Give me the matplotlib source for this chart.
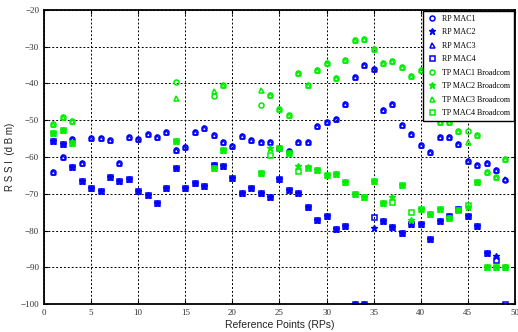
import numpy as np
import matplotlib.pyplot as plt

nan = np.nan

# номера опорных точек (RP)
points = list(range(1, 50))

# RSSI, измеренный на опорных точках (синие)
rp_mac1 = [-64.0, -60.1, -55.2, -61.5, -54.9, -54.9, -55.4, -61.7, -54.5, -55.2,
           -53.7, -54.6, -53.2, -58.1, -57.3, -53.2, -52.2, -54.0, -55.9, -56.9,
           -54.4, -55.4, -56.0, -56.0, -57.6, -58.4, -55.8, -55.8, -51.6, -50.5,
           -49.6, -45.7, -38.3, -35.0, -36.1, -47.3, -45.7, -51.2, -53.8, -56.7,
           -58.7, -54.6, -54.5, -56.5, -61.1, -62.3, -61.5, -63.4, -66.3]
rp_mac2 = [-55.6, -56.4, -62.8, -66.4, -68.5, -69.2, -65.4, -66.4, -66.1, -69.2,
           -70.3, -72.4, -68.3, -63.1, -68.5, -67.0, -67.8, -62.2, -62.5, -65.8,
           -69.7, -68.5, -69.9, -71.0, -65.9, -69.1, -69.7, -73.7, -77.1, -76.1,
           -79.5, -78.8, -100.0, -100.0, -79.4, -77.4, -79.1, -80.6, -78.1, -78.1,
           -82.3, -77.3, -76.1, -74.2, -76.1, -78.8, -86.2, -87.0, -90.0]
rp_mac3 = [-64.0, -60.1, -55.2, -61.5, -54.9, -54.9, -55.4, -61.7, -54.5, -55.2,
           -53.7, -54.6, -53.2, -58.1, -57.3, -53.2, -52.2, -54.0, -55.9, -56.9,
           -54.4, -55.4, -56.0, -56.0, -57.6, -58.4, -55.8, -55.8, -51.6, -50.5,
           -49.6, -45.7, -38.3, -35.0, -36.1, -47.3, -45.7, -51.2, -53.8, -56.7,
           -58.7, -54.6, -54.5, -56.5, -61.1, -62.3, -61.5, -63.4, -66.1]
rp_mac4 = [-55.6, -56.4, -62.8, -66.4, -68.5, -69.2, -65.4, -66.4, -66.1, -69.2,
           -70.3, -72.4, -68.3, -63.1, -68.5, -67.0, -67.8, -62.2, -62.5, -65.8,
           -69.7, -68.5, -69.9, -71.0, -65.9, -69.1, -69.7, -73.7, -77.1, -76.1,
           -79.5, -78.8, -100.0, -100.0, -76.2, -77.4, -79.1, -80.6, -78.1, -78.1,
           -82.3, -77.3, -76.1, -74.2, -76.1, -78.8, -86.2, -88.0, -100.0]

# RSSI от широковещательных точек (зелёные)
tp_mac1 = [-50.9, -49.2, -50.1, nan, nan, nan, nan, nan, nan, nan,
           nan, nan, nan, -39.6, nan, nan, nan, -43.4, -40.5, nan,
           nan, nan, -45.9, -43.1, -46.8, -48.6, -37.2, -40.4, -36.3, -34.3,
           -38.6, -33.6, -28.2, -28.0, -30.6, -34.5, -34.0, -35.4, -37.9, -36.3,
           -39.0, -50.4, -50.6, -53.0, -52.8, -54.0, -64.0, -65.4, -60.6]
tp_mac2 = [-53.4, -52.6, -56.3, nan, nan, nan, nan, nan, nan, nan,
           nan, nan, nan, -55.6, nan, nan, nan, -63.1, -58.1, nan,
           nan, nan, -64.4, -57.6, -57.6, -58.8, -62.5, -62.6, -63.4, -64.9,
           -64.6, -66.9, -70.1, -71.0, -66.4, -72.6, -70.8, -67.6, -77.0, -74.0,
           -75.6, -74.0, -76.7, -74.4, -73.5, -66.9, -89.8, -89.8, -90.0]
tp_mac3 = [-50.9, -49.2, -50.1, nan, nan, nan, nan, nan, nan, nan,
           nan, nan, nan, -43.9, nan, nan, nan, -42.0, -40.5, nan,
           nan, nan, -41.8, -43.1, -46.8, -48.6, -37.2, -40.4, -36.3, -34.3,
           -38.6, -33.6, -28.2, -28.0, -30.6, -34.5, -34.0, -35.4, -37.9, -36.3,
           -39.0, -50.4, -50.6, -53.0, -55.8, -54.0, -64.0, -65.4, -60.6]
tp_mac4 = [-53.4, -52.6, -56.3, nan, nan, nan, nan, nan, nan, nan,
           nan, nan, nan, -55.6, nan, nan, nan, -63.1, -58.1, nan,
           nan, nan, -64.4, -59.5, -57.6, -58.8, -63.7, -63.1, -63.4, -64.9,
           -64.6, -66.9, -70.1, -71.0, -66.4, -72.6, -72.2, -67.6, -74.9, -74.0,
           -75.6, -74.0, -76.7, -74.4, -73.0, -66.9, -89.8, -89.8, -90.0]

labels = ['RP MAC1', 'RP MAC2', 'RP MAC3', 'RP MAC4',
          'TP MAC1 Broadcom', 'TP MAC2 Broadcom', 'TP MAC3 Broadcom', 'TP MAC4 Broadcom']

fig = plt.figure(figsize=(5.18, 3.32), dpi=100)
ax = fig.add_axes([0.085, 0.084, 0.909, 0.886])

series = [rp_mac1, rp_mac2, rp_mac3, rp_mac4, tp_mac1, tp_mac2, tp_mac3, tp_mac4]
markers = ['o', '*', '^', 's', 'o', '*', '^', 's']
colors = ['blue'] * 4 + ['#00ee00'] * 4

for vals, m, c, lab in zip(series, markers, colors, labels):
    if m == '*':
        ax.plot(points, vals, linestyle='none', marker=m, markersize=4.5,
                color=c, label=lab)
    else:
        ax.plot(points, vals, linestyle='none', marker=m, markersize=3.6,
                markerfacecolor='none', markeredgecolor=c, markeredgewidth=1.1,
                label=lab)

ax.set_xlim(0, 50)
ax.set_ylim(-100, -20)
ax.set_xticks(range(0, 51, 5))
ax.set_yticks(range(-100, -19, 10))

# оформление в стиле matlab
ax.grid(True, color='black', linestyle=(0, (2, 2)), linewidth=0.7)
ax.tick_params(direction='in', length=3, width=0.8, top=True, right=True,
               labelsize=6.5, labelcolor='#333333')
for lab in ax.get_xticklabels() + ax.get_yticklabels():
    lab.set_family('Liberation Serif')
for sp in ax.spines.values():
    sp.set_linewidth(1.3)

ax.set_xlabel('Reference Points (RPs)', family='Liberation Sans', fontsize=7.5,
              color='#222222', labelpad=2)
ax.set_ylabel('R S S I  (d B m)', family='Liberation Sans', fontsize=7,
              color='#222222', labelpad=4)

leg = ax.legend(loc='upper right', borderaxespad=0.1, fancybox=False,
                framealpha=1, edgecolor='black', handletextpad=0.7,
                labelspacing=0.68, borderpad=0.5, handlelength=1.2,
                prop={'family': 'Liberation Serif', 'size': 5.8})
leg.get_frame().set_linewidth(1.0)

plt.savefig('out.png', dpi=100)
